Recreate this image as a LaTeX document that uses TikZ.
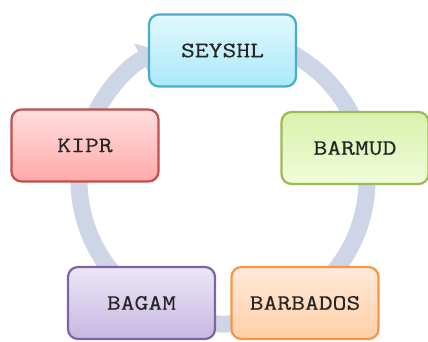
\documentclass[tikz,border=0pt]{standalone}
\usepackage{fontspec}
\newfontfamily\boxfont[FakeStretch=1.22, FakeBold=0.4]{Latin Modern Mono}
\usepackage{tikz}
\usetikzlibrary{arrows.meta,positioning,calc}
\usepackage{xcolor}
\definecolor{Band}{HTML}{CDD5E6}
\definecolor{CyanLine}{HTML}{4BACC6}
\definecolor{CyanTop}{HTML}{E2F8FE}
\definecolor{CyanBot}{HTML}{A9E9FA}
\definecolor{RedLine}{HTML}{C0504D}
\definecolor{RedTop}{HTML}{FFDEDE}
\definecolor{RedBot}{HTML}{FFA9A9}
\definecolor{GreenLine}{HTML}{9BBB59}
\definecolor{GreenTop}{HTML}{D9F1AC}
\definecolor{GreenBot}{HTML}{F1FCD9}
\definecolor{VioLine}{HTML}{8064A2}
\definecolor{VioTop}{HTML}{ECE7F7}
\definecolor{VioBot}{HTML}{C8B7E2}
\definecolor{OrLine}{HTML}{F79646}
\definecolor{OrTop}{HTML}{FFEADB}
\definecolor{OrBot}{HTML}{FFCFA6}
\tikzset{
  cycbox/.style n args={3}{draw=#1, line width=2.2pt, rounded corners=10pt,
    minimum width=147pt, minimum height=72pt, align=center,
    font=\boxfont\fontsize{22}{24}\selectfont, text=black!85,
    top color=#2, bottom color=#3},
  cycband/.style={-{Triangle[width=34pt,length=20pt]}, line width=17pt, color=Band},
}

\begin{document}
\begin{tikzpicture}[x=1pt, y=1pt]
  \useasboundingbox (0,0) rectangle (428,341);
  \coordinate (hub) at (223,161);
  \draw[cycband] ($(hub)+(70:144)$) arc[start angle=70, end angle=-244, radius=144];
  \node[cycbox={CyanLine}{CyanTop}{CyanBot}] (seyshl) at (222.5,290.5) {SEYSHL};
  \node[cycbox={GreenLine}{GreenTop}{GreenBot}] (barmud) at (355,193) {BARMUD};
  \node[cycbox={OrLine}{OrTop}{OrBot}] (barbados) at (305,38) {BARBADOS};
  \node[cycbox={VioLine}{VioTop}{VioBot}] (bagam) at (141.5,38) {BAGAM};
  \node[cycbox={RedLine}{RedTop}{RedBot}] (kipr) at (85,195.5) {KIPR};
\end{tikzpicture}
\end{document}
